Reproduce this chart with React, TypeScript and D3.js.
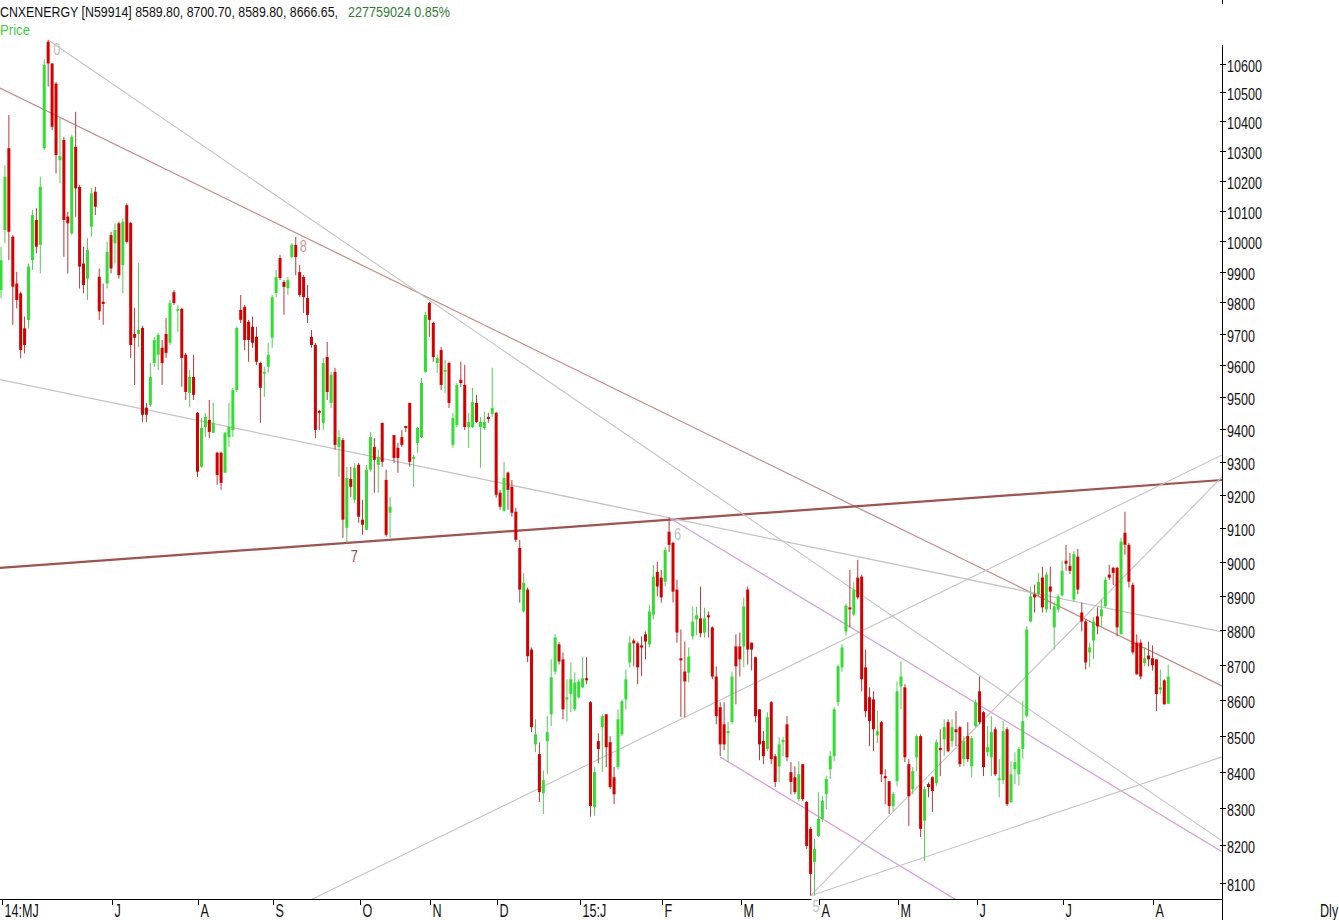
import React from 'react';
import * as d3 from 'd3';

// Daily OHLC, CNXENERGY, late May 2014 -> early Aug 2015
const opens = [
  9840, 10036, 10309, 10014, 9861, 9829, 9717, 9744, 9937, 10069, 9987, 10309, 10676, 10600, 10530, 10269, 10337, 10080, 10025, 10314,
  10179, 9926, 9877, 10047, 10163, 9883, 9802, 9861, 10019, 9992, 10058, 9921, 10118, 10059, 9699, 9699, 9718, 9467, 9476, 9607,
  9633, 9655, 9699, 9671, 9833, 9773, 9779, 9633, 9513, 9563, 9451, 9285, 9407, 9429, 9389, 9328, 9328, 9267, 9376, 9398,
  9522, 9776, 9786, 9738, 9722, 9690, 9607, 9573, 9595, 9687, 9830, 9944, 9866, 9846, 9947, 9987, 9898, 9882, 9814, 9690,
  9664, 9457, 9420, 9626, 9482, 9579, 9346, 9367, 9101, 9248, 9185, 9291, 9125, 9095, 9276, 9346, 9291, 9420, 9245, 9146,
  9382, 9343, 9376, 9410, 9482, 9309, 9358, 9376, 9579, 9798, 9734, 9607, 9648, 9579, 9607, 9352, 9413, 9554, 9538, 9407,
  9407, 9482, 9407, 9404, 9438, 9448, 9451, 9206, 9152, 9267, 9224, 9149, 9041, 8854, 8918, 8744, 8476, 8449, 8341, 8485,
  8560, 8681, 8759, 8716, 8602, 8617, 8574, 8608, 8636, 8662, 8594, 8303, 8485, 8524, 8560, 8482, 8385, 8413, 8504, 8602,
  8707, 8770, 8762, 8756, 8788, 8759, 8845, 8970, 8953, 8941, 9089, 9056, 8918, 8719, 8681, 8678, 8782, 8831, 8834, 8793,
  8843, 8808, 8667, 8580, 8532, 8507, 8538, 8753, 8753, 8753, 8918, 8764, 8722, 8574, 8485, 8463, 8594, 8443, 8415, 8482,
  8532, 8399, 8385, 8325, 8421, 8317, 8244, 8155, 8225, 8271, 8339, 8407, 8443, 8594, 8693, 8796, 8866, 8845, 8953, 8956,
  8693, 8608, 8602, 8501, 8538, 8388, 8374, 8306, 8374, 8639, 8636, 8421, 8352, 8440, 8499, 8266, 8366, 8385, 8369, 8466,
  8490, 8538, 8485, 8518, 8524, 8435, 8499, 8415, 8527, 8625, 8566, 8454, 8440, 8518, 8377, 8377, 8518, 8317, 8407, 8393,
  8463, 8555, 8825, 8904, 8904, 8953, 8860, 8927, 8808, 8860, 8901, 9003, 8988, 8889, 9015, 8851, 8825, 8736, 8770, 8840,
  8840, 8869, 8962, 8982, 8982, 8788, 9086, 9050, 8932, 8764, 8764, 8705, 8727, 8719, 8716, 8630, 8656, 8589.8,
];
const highs = [
  9981, 10252, 10422, 10019, 9899, 9835, 9755, 9926, 10102, 10108, 10213, 10615, 10682, 10602, 10536, 10411, 10348, 10096, 10354, 10433,
  10185, 9981, 10009, 10174, 10179, 9910, 9861, 9997, 10030, 10058, 10063, 10074, 10124, 10063, 9783, 9927, 9725, 9482, 9607, 9690,
  9702, 9680, 9750, 9808, 9840, 9792, 9783, 9639, 9585, 9633, 9454, 9435, 9451, 9491, 9482, 9331, 9331, 9392, 9482, 9529,
  9722, 9824, 9792, 9744, 9754, 9722, 9611, 9595, 9671, 9824, 9905, 9954, 9872, 9882, 9993, 10013, 9921, 9888, 9856, 9712,
  9671, 9460, 9623, 9674, 9579, 9592, 9398, 9373, 9285, 9285, 9297, 9297, 9185, 9291, 9392, 9373, 9337, 9420, 9276, 9194,
  9382, 9358, 9398, 9410, 9482, 9321, 9407, 9560, 9770, 9802, 9738, 9633, 9658, 9617, 9611, 9451, 9544, 9611, 9601, 9451,
  9529, 9507, 9438, 9454, 9451, 9592, 9454, 9215, 9300, 9270, 9245, 9161, 9065, 8967, 8924, 8750, 8546, 8482, 8404, 8555,
  8716, 8788, 8765, 8736, 8659, 8707, 8679, 8659, 8722, 8722, 8597, 8413, 8507, 8560, 8560, 8499, 8413, 8574, 8602, 8687,
  8782, 8776, 8767, 8782, 8796, 8874, 8991, 9000, 8976, 9044, 9131, 9059, 8947, 8802, 8767, 8750, 8868, 8868, 8927, 8865,
  8854, 8811, 8696, 8594, 8594, 8538, 8681, 8788, 8793, 8895, 8927, 8764, 8724, 8574, 8513, 8566, 8597, 8449, 8496, 8496,
  8555, 8427, 8415, 8429, 8421, 8320, 8249, 8217, 8344, 8333, 8388, 8457, 8580, 8701, 8759, 8877, 8976, 8941, 9006, 8962,
  8744, 8636, 8625, 8569, 8541, 8407, 8374, 8344, 8653, 8710, 8645, 8435, 8413, 8504, 8504, 8360, 8371, 8388, 8490, 8518,
  8546, 8546, 8546, 8569, 8527, 8499, 8538, 8499, 8602, 8667, 8569, 8527, 8555, 8524, 8435, 8541, 8524, 8429, 8454, 8468,
  8597, 8811, 8927, 8933, 8967, 8985, 8970, 8985, 8883, 8904, 9003, 9050, 9026, 9032, 9038, 8880, 8831, 8764, 8837, 8866,
  8889, 8956, 8991, 8985, 8985, 9071, 9149, 9056, 8938, 8788, 8773, 8750, 8767, 8756, 8716, 8687, 8659, 8700.7,
];
const lows = [
  9813, 9992, 9937, 9728, 9781, 9622, 9637, 9717, 9905, 9959, 9894, 10303, 10520, 10371, 10224, 10191, 9948, 9894, 10020, 10080,
  9845, 9829, 9808, 10014, 10085, 9744, 9728, 9845, 9894, 9926, 9877, 9829, 9992, 9623, 9538, 9658, 9423, 9423, 9470, 9595,
  9585, 9538, 9623, 9664, 9792, 9706, 9532, 9491, 9470, 9491, 9254, 9282, 9376, 9373, 9389, 9230, 9215, 9267, 9346, 9376,
  9516, 9734, 9648, 9611, 9655, 9601, 9420, 9500, 9576, 9655, 9817, 9872, 9760, 9824, 9944, 9888, 9817, 9766, 9734, 9655,
  9373, 9398, 9398, 9491, 9466, 9337, 9254, 9071, 9056, 9194, 9176, 9116, 9080, 9095, 9270, 9206, 9206, 9285, 9074, 9071,
  9297, 9267, 9346, 9392, 9285, 9224, 9328, 9373, 9576, 9690, 9611, 9576, 9522, 9513, 9466, 9343, 9407, 9532, 9398, 9343,
  9404, 9420, 9282, 9398, 9420, 9438, 9191, 9155, 9149, 9155, 9134, 9059, 8880, 8851, 8708, 8510, 8454, 8317, 8284, 8393,
  8527, 8673, 8701, 8546, 8540, 8566, 8569, 8605, 8633, 8645, 8277, 8280, 8424, 8399, 8413, 8352, 8311, 8407, 8499, 8574,
  8693, 8696, 8645, 8668, 8716, 8750, 8831, 8898, 8880, 8927, 9029, 8880, 8764, 8552, 8552, 8650, 8773, 8785, 8779, 8779,
  8779, 8659, 8532, 8443, 8460, 8427, 8532, 8588, 8667, 8693, 8701, 8684, 8538, 8432, 8421, 8457, 8421, 8358, 8372, 8443,
  8429, 8338, 8338, 8320, 8320, 8190, 8065, 8065, 8222, 8263, 8298, 8380, 8429, 8583, 8681, 8785, 8808, 8840, 8889, 8625,
  8552, 8471, 8457, 8479, 8372, 8311, 8284, 8292, 8360, 8574, 8427, 8252, 8338, 8401, 8222, 8158, 8330, 8290, 8360, 8388,
  8443, 8454, 8468, 8471, 8413, 8415, 8427, 8385, 8524, 8532, 8388, 8443, 8388, 8388, 8330, 8366, 8306, 8314, 8366, 8363,
  8435, 8552, 8822, 8851, 8895, 8851, 8851, 8860, 8744, 8851, 8898, 8973, 8964, 8883, 8904, 8796, 8687, 8693, 8716, 8788,
  8808, 8866, 8947, 8932, 8782, 8788, 9021, 8924, 8730, 8673, 8659, 8696, 8696, 8684, 8569, 8617, 8588, 8589.8,
];
const closes = [
  9937, 10213, 10030, 9851, 9808, 9648, 9664, 9916, 10085, 9981, 10179, 10595, 10600, 10382, 10286, 10283, 10069, 10058, 10348, 10174,
  9916, 9856, 9970, 10157, 10113, 9771, 9795, 9964, 9910, 10036, 9888, 10063, 9997, 9664, 9687, 9712, 9445, 9445, 9563, 9680,
  9696, 9607, 9639, 9798, 9798, 9779, 9623, 9516, 9563, 9507, 9270, 9404, 9438, 9392, 9420, 9260, 9236, 9389, 9407, 9522,
  9718, 9744, 9680, 9680, 9671, 9611, 9529, 9579, 9633, 9817, 9882, 9879, 9850, 9872, 9987, 9947, 9824, 9817, 9760, 9664,
  9398, 9451, 9607, 9516, 9570, 9352, 9376, 9125, 9251, 9224, 9282, 9134, 9110, 9276, 9376, 9306, 9315, 9300, 9080, 9164,
  9312, 9312, 9352, 9404, 9300, 9315, 9404, 9544, 9760, 9744, 9626, 9623, 9538, 9585, 9482, 9435, 9538, 9544, 9407, 9423,
  9485, 9423, 9423, 9423, 9432, 9466, 9200, 9164, 9251, 9215, 9146, 9065, 8918, 8938, 8725, 8524, 8504, 8344, 8377, 8510,
  8665, 8779, 8710, 8574, 8608, 8659, 8650, 8653, 8662, 8656, 8306, 8399, 8463, 8555, 8468, 8358, 8338, 8546, 8597, 8659,
  8764, 8762, 8693, 8750, 8767, 8854, 8956, 8927, 8895, 9035, 9050, 8912, 8793, 8713, 8653, 8724, 8825, 8843, 8791, 8834,
  8837, 8667, 8555, 8476, 8476, 8513, 8667, 8696, 8716, 8869, 8744, 8744, 8555, 8476, 8443, 8552, 8435, 8372, 8476, 8488,
  8440, 8372, 8344, 8393, 8325, 8198, 8123, 8190, 8271, 8320, 8380, 8443, 8574, 8696, 8750, 8871, 8860, 8918, 8895, 8659,
  8569, 8541, 8518, 8513, 8393, 8382, 8306, 8339, 8625, 8667, 8440, 8333, 8402, 8499, 8244, 8352, 8358, 8347, 8482, 8460,
  8524, 8457, 8524, 8510, 8421, 8485, 8435, 8493, 8594, 8538, 8413, 8468, 8510, 8393, 8382, 8513, 8311, 8393, 8427, 8463,
  8541, 8802, 8898, 8895, 8941, 8866, 8962, 8912, 8869, 8898, 8973, 8994, 8973, 9023, 8918, 8825, 8707, 8750, 8825, 8811,
  8860, 8947, 8953, 8967, 8808, 9059, 9050, 8941, 8736, 8673, 8667, 8719, 8716, 8699, 8617, 8636, 8588, 8666.65,
];

// month boundaries (candle index) and their labels
const monthStarts = [0, 28, 50, 69, 91, 109, 126, 147, 168, 188, 208, 228, 248, 270, 293];
const monthLabels = ['14:MJ', 'J', 'A', 'S', 'O', 'N', 'D', '15:J', 'F', 'M', 'A', 'M', 'J', 'J', 'A'];

// price axis ticks
const priceTicks = d3.range(8100, 10601, 100);

// trend lines: [startIdx, startPrice, endIdx, endPrice]
const trendAnchors: [number, number, number, number][] = [
  [0, 10513, 297, 8715],
  [0, 8982, 297, 9233],
  [12, 10682, 297, 8311],
  [0, 9554, 170, 9131],
  [80, 8060, 297, 9241],
  [170, 9131, 297, 8270],
  [183, 8441, 240, 8073],
  [206, 8065, 297, 9089],
  [206, 8065, 297, 8391],
];
const trendExtendLeft = [true, true, false, true, true, false, false, false, false];
const trendColors = ['#c08a86', '#a4504c', '#c4c4c4', '#c4c4c4', '#c4c4c4', '#d7a0dc', '#d7a0dc', '#c4c4c4', '#c4c4c4'];
const trendWidths = [1.2, 2.2, 1.1, 1.3, 1.1, 1.3, 1.3, 1.1, 1.1];

// pivot markers
const pivotNames = ['0', '8', '7', '6', '5'];
const pivotIdx = [12, 75, 88, 170, 206];
const pivotPrice = [10682, 10013, 9056, 9131, 8065];
const pivotColors = ['#bdbdbd', '#c99a96', '#9c4a46', '#bdbdbd', '#bdbdbd'];

const W = 1339;
const H = 920;
const axisX = 1222;
const axisY = 899;
const font = "'Liberation Sans', Arial, sans-serif";

// Liberation Sans squeezed horizontally to look like the narrow screen font
function Narrow({ x, y, size, sx, fill, width, children }: {
  x: number; y: number; size: number; sx: number; fill: string; width?: number; children: React.ReactNode;
}) {
  return (
    <g transform={`translate(${x},${y}) scale(${sx},1)`}>
      <text x={0} y={0} fontSize={size} fill={fill}
        textLength={width ? width / sx : undefined}
        lengthAdjust={width ? 'spacingAndGlyphs' : undefined}>
        {children}
      </text>
    </g>
  );
}

export default function App() {
  const x = d3.scaleLinear().domain([0, opens.length - 1]).range([1, 1168.2]);
  const y = d3.scaleLog().domain([8100, 10600]).range([882.5, 63.5]);

  const up = '#33dd33';
  const down = '#d40000';

  const trendPaths = trendAnchors.map(([i0, p0, i1, p1], k) => {
    const xa = x(i0), ya = y(p0), xb = x(i1), yb = y(p1);
    const slope = (yb - ya) / (xb - xa);
    const sx = trendExtendLeft[k] ? 0 : xa;
    const sy = ya + slope * (sx - xa);
    const ey = ya + slope * (axisX - xa);
    return { sx, sy, ex: axisX, ey };
  });

  // pivot label offsets (label sits beside the pivot candle)
  const pivotOffsets: [number, number][] = [[5, 15], [4, 15], [4, 19], [5, 22], [2, 16]];

  return (
    <svg
      width={W}
      height={H}
      style={{ position: 'absolute', left: 0, top: 0, background: '#fff' }}
      fontFamily={font}
    >
      <defs>
        <clipPath id="plot">
          <rect x={0} y={0} width={axisX} height={axisY} />
        </clipPath>
      </defs>
      <rect x={0} y={0} width={W} height={H} fill="#fff" />

      {/* header */}
      <Narrow x={0} y={17} size={15} sx={0.76} fill="#111" width={338}>
        CNXENERGY [N59914] 8589.80, 8700.70, 8589.80, 8666.65,
      </Narrow>
      <Narrow x={348} y={17} size={15} sx={0.76} fill="#2f7d32" width={102}>
        227759024  0.85%
      </Narrow>
      <Narrow x={0} y={35} size={15} sx={0.76} fill="#3fcf3f" width={30}>
        Price
      </Narrow>

      {/* trend lines */}
      <g clipPath="url(#plot)">
        {trendPaths.map((t, k) => (
          <line key={k} x1={t.sx} y1={t.sy} x2={t.ex} y2={t.ey}
            stroke={trendColors[k]} strokeWidth={trendWidths[k]} />
        ))}
      </g>

      {/* candles */}
      <g>
        {opens.map((o, i) => {
          const c = closes[i];
          const isUp = c >= o;
          const cx = x(i);
          const top = y(Math.max(o, c));
          const bot = y(Math.min(o, c));
          const bh = Math.max(1.5, bot - top);
          return (
            <g key={i}>
              <rect x={cx - 0.5} y={y(highs[i])} width={1} height={Math.max(1, y(lows[i]) - y(highs[i]))}
                fill={isUp ? '#55cc55' : '#b23c3c'} />
              <rect x={cx - 1.5} y={top} width={3} height={bh} fill={isUp ? up : down} />
            </g>
          );
        })}
      </g>

      {/* bottom axis */}
      <line x1={0} x2={axisX} y1={axisY + 0.5} y2={axisY + 0.5} stroke="#000" strokeWidth={1} />

      {/* pivot labels (the bottom one masks the axis line behind it) */}
      {pivotNames.map((n, k) => (
        <g key={n}>
          {n === '5' && <rect x={x(pivotIdx[k]) + pivotOffsets[k][0] - 1} y={898} width={8} height={16} fill="#fff" />}
          <Narrow x={x(pivotIdx[k]) + pivotOffsets[k][0]} y={y(pivotPrice[k]) + pivotOffsets[k][1]}
            size={16} sx={0.8} fill={pivotColors[k]}>{n}</Narrow>
        </g>
      ))}

      {monthStarts.map((m, k) => {
        const tx = Math.round(x(m) + 1) + 0.5;
        return (
          <g key={k}>
            <line x1={tx} x2={tx} y1={axisY} y2={axisY + 6} stroke="#000" />
            <Narrow x={tx + 2} y={917} size={18} sx={0.7} fill="#111">{monthLabels[k]}</Narrow>
          </g>
        );
      })}
      <Narrow x={1320} y={917} size={18} sx={0.7} fill="#111">Dly</Narrow>

      {/* right price axis */}
      <line x1={axisX + 0.5} x2={axisX + 0.5} y1={45} y2={H} stroke="#000" />
      <line x1={axisX + 0.5} x2={axisX + 0.5} y1={0} y2={4} stroke="#000" />
      {priceTicks.map(v => {
        const ty = Math.round(y(v)) + 0.5;
        return (
          <g key={v}>
            <line x1={axisX - 2} x2={axisX + 4} y1={ty} y2={ty} stroke="#000" />
            <Narrow x={axisX + 5} y={ty + 7.5} size={17} sx={0.74} fill="#111">{v}</Narrow>
          </g>
        );
      })}
    </svg>
  );
}
